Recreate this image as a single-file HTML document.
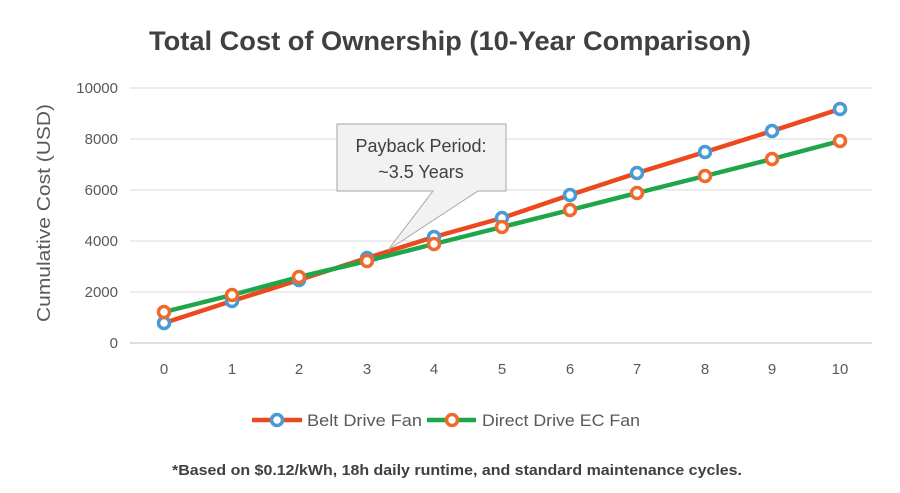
<!DOCTYPE html>
<html><head><meta charset="utf-8"><style>
html,body{margin:0;padding:0;background:#fff}
svg{display:block;font-family:"Liberation Sans",sans-serif}
</style></head><body>
<svg width="900" height="493" viewBox="0 0 900 493">
<rect width="900" height="493" fill="#fff"/>
<text x="450" y="50" text-anchor="middle" font-size="27" font-weight="bold" fill="#404040" textLength="602" lengthAdjust="spacingAndGlyphs">Total Cost of Ownership (10-Year Comparison)</text>
<g stroke="#d9d9d9" stroke-width="1">
<line x1="130" x2="872" y1="88" y2="88"/><line x1="130" x2="872" y1="139" y2="139"/>
<line x1="130" x2="872" y1="190" y2="190"/><line x1="130" x2="872" y1="241" y2="241"/>
<line x1="130" x2="872" y1="292" y2="292"/></g>
<line x1="130" x2="872" y1="343" y2="343" stroke="#bfbfbf"/>
<g font-size="15" fill="#595959" text-anchor="end">
<text x="118" y="93">10000</text><text x="118" y="144">8000</text><text x="118" y="195">6000</text>
<text x="118" y="246">4000</text><text x="118" y="297">2000</text><text x="118" y="348">0</text></g>
<g font-size="15" fill="#595959" text-anchor="middle">
<text x="164" y="374">0</text><text x="232" y="374">1</text><text x="299" y="374">2</text><text x="367" y="374">3</text>
<text x="434" y="374">4</text><text x="502" y="374">5</text><text x="570" y="374">6</text><text x="637" y="374">7</text>
<text x="705" y="374">8</text><text x="772" y="374">9</text><text x="840" y="374">10</text></g>
<text transform="translate(50,213) rotate(-90)" font-size="18" fill="#595959" text-anchor="middle" textLength="218" lengthAdjust="spacingAndGlyphs">Cumulative Cost (USD)</text>
<polyline fill="none" stroke="#ec4a1e" stroke-width="4.5" stroke-linejoin="round" points="164,323 232,301 299,280 367,258 434,237 502,218 570,195 637,173 705,152 772,131 840,109"/>
<polyline fill="none" stroke="#1ea64a" stroke-width="4.5" stroke-linejoin="round" points="164,312 232,295 299,277 367,261 434,244 502,227 570,210 637,193 705,176 772,159 840,141"/>
<g fill="#fff" stroke="#4a9ad4" stroke-width="3.5">
<circle cx="164" cy="323" r="5.5"/><circle cx="232" cy="301" r="5.5"/><circle cx="299" cy="280" r="5.5"/><circle cx="367" cy="258" r="5.5"/>
<circle cx="434" cy="237" r="5.5"/><circle cx="502" cy="218" r="5.5"/><circle cx="570" cy="195" r="5.5"/><circle cx="637" cy="173" r="5.5"/>
<circle cx="705" cy="152" r="5.5"/><circle cx="772" cy="131" r="5.5"/><circle cx="840" cy="109" r="5.5"/></g>
<g fill="#fff" stroke="#ef6a2c" stroke-width="3.5">
<circle cx="164" cy="312" r="5.5"/><circle cx="232" cy="295" r="5.5"/><circle cx="299" cy="277" r="5.5"/><circle cx="367" cy="261" r="5.5"/>
<circle cx="434" cy="244" r="5.5"/><circle cx="502" cy="227" r="5.5"/><circle cx="570" cy="210" r="5.5"/><circle cx="637" cy="193" r="5.5"/>
<circle cx="705" cy="176" r="5.5"/><circle cx="772" cy="159" r="5.5"/><circle cx="840" cy="141" r="5.5"/></g>
<path d="M337,124 H506 V191 H478 L388,250 L433,191 H337 Z" fill="#f2f2f2" stroke="#a6a6a6" stroke-width="1"/>
<text x="421" y="152" text-anchor="middle" font-size="18" fill="#404040">Payback Period:</text>
<text x="421" y="178" text-anchor="middle" font-size="18" fill="#404040">~3.5 Years</text>
<line x1="252" x2="302" y1="420" y2="420" stroke="#ec4a1e" stroke-width="4.5"/>
<circle cx="277" cy="420" r="5.5" fill="#fff" stroke="#4a9ad4" stroke-width="3.5"/>
<text x="307" y="426" font-size="17" fill="#595959" textLength="115" lengthAdjust="spacingAndGlyphs">Belt Drive Fan</text>
<line x1="427" x2="476" y1="420" y2="420" stroke="#1ea64a" stroke-width="4.5"/>
<circle cx="452" cy="420" r="5.5" fill="#fff" stroke="#ef6a2c" stroke-width="3.5"/>
<text x="482" y="426" font-size="17" fill="#595959" textLength="158" lengthAdjust="spacingAndGlyphs">Direct Drive EC Fan</text>
<text x="457" y="475" text-anchor="middle" font-size="15" font-weight="bold" fill="#404040" textLength="570" lengthAdjust="spacingAndGlyphs">*Based on $0.12/kWh, 18h daily runtime, and standard maintenance cycles.</text>
</svg>
</body></html>
